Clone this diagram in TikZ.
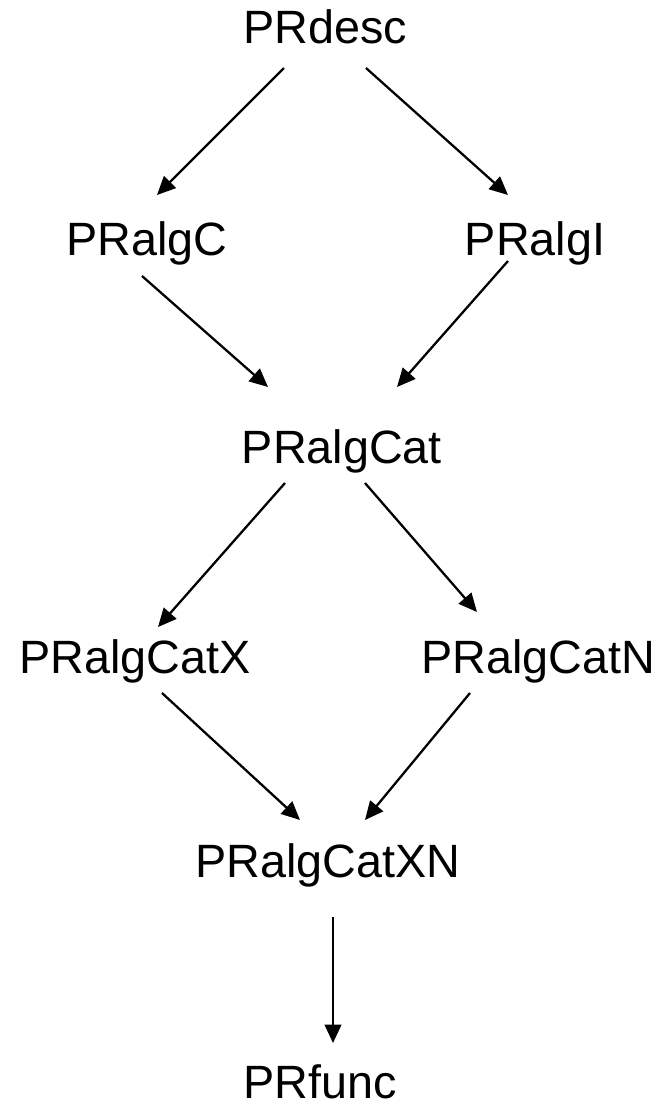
\documentclass[tikz,border=0pt]{standalone}
\usepackage{fontspec}
\setmainfont{Liberation Sans}
\usetikzlibrary{arrows.meta,calc}

\begin{document}
\begin{tikzpicture}[
        x=0.02cm, y=-0.02cm,
        every node/.style={font=\fontsize{26.6}{30}\selectfont,inner sep=0pt,anchor=base},
        arr/.style={-{Triangle[length=10.5pt,width=9.5pt]},line width=1.3pt}
    ]
    \useasboundingbox (0,0) rectangle (659,1107);
    % the refinement chain
    \node (desc)  at (325,43)   {PRdesc};
    \node (algC)  at (147,255)  {PRalgC};
    \node (algI)  at (535,255)  {PRalgI};
    \node (cat)   at (342,463)  {PRalgCat};
    \node (catX)  at (135,673)  {PRalgCatX};
    \node (catN)  at (538,673)  {PRalgCatN};
    \node (catXN) at (328,877)  {PRalgCatXN};
    \node (func)  at (320,1098) {PRfunc};

    \draw [arr] ($(desc.base)+(-41,25)$) -- ($(algC.base)+(10,-60)$);
    \draw [arr] ($(desc.base)+(41,25)$) -- ($(algI.base)+(-27,-60)$);
    \draw [arr] ($(algC.base)+(-5,21)$) -- ($(cat.base)+(-74,-76)$);
    \draw [arr] ($(algI.base)+(-27,6)$) -- ($(cat.base)+(55,-76)$);
    \draw [arr] ($(cat.base)+(-57,20)$) -- ($(catX.base)+(23,-46)$);
    \draw [arr] ($(cat.base)+(23,20)$) -- ($(catN.base)+(-61,-61)$);
    \draw [arr] ($(catX.base)+(27,20)$) -- ($(catXN.base)+(-28,-57)$);
    \draw [arr] ($(catN.base)+(-68,20)$) -- ($(catXN.base)+(37,-57)$);
    \draw [arr] ($(catXN.base)+(5,40)$) -- ($(func.base)+(13,-55)$);
\end{tikzpicture}
\end{document}
